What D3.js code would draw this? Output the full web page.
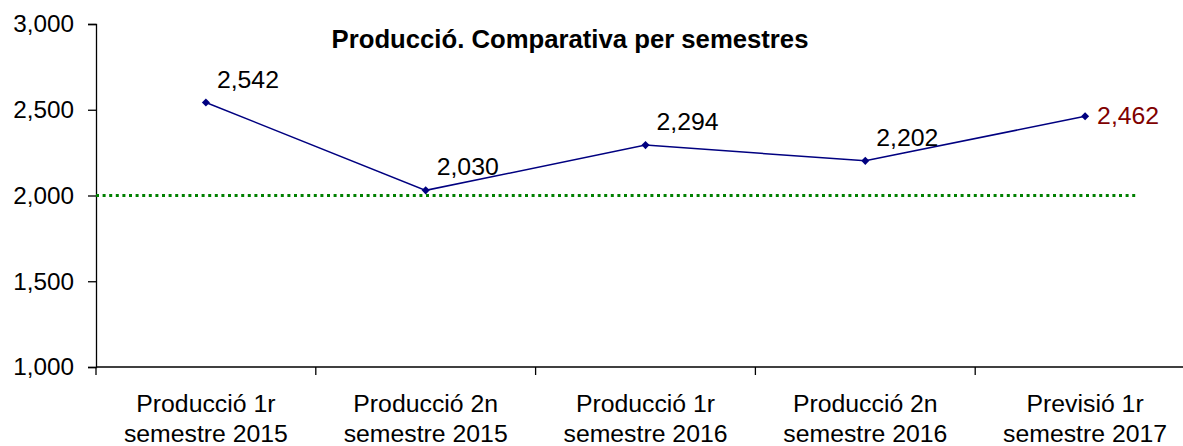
<!DOCTYPE html>
<html>
<head>
<meta charset="utf-8">
<script src="https://cdn.jsdelivr.net/npm/d3@7"></script>
<style>
  body { margin: 0; background: #fff; }
  text { font-family: "Liberation Sans", Arial, sans-serif; }
</style>
</head>
<body>
<svg width="1183" height="446"></svg>
<script>
const categories = [
    'Producció 1r semestre 2015',
    'Producció 2n semestre 2015',
    'Producció 1r semestre 2016',
    'Producció 2n semestre 2016',
    'Previsió 1r semestre 2017'
];
const values = [2542, 2030, 2294, 2202, 2462];
const target = 2000;
const yTicks = [1000, 1500, 2000, 2500, 3000];

const svg = d3.select('svg');
const plotLeft = 96, plotTop = 24, plotBottom = 367;
const band = 219.8;

// scales
const x = d3.scaleBand()
    .domain(categories)
    .range([plotLeft, plotLeft + band * categories.length]);

const y = d3.scaleLinear()
    .domain([1000, 3000])
    .range([plotBottom, plotTop]);

// y axis
const yAxis = svg.append('g')
    .attr('transform', `translate(${plotLeft},0)`)
    .call(d3.axisLeft(y).tickValues(yTicks).tickFormat(d3.format(',')).tickSize(8).tickPadding(14));
yAxis.select('.domain').attr('stroke', '#000').attr('stroke-width', 1.3);
yAxis.selectAll('.tick line').attr('stroke', '#000').attr('stroke-width', 1.3);
yAxis.selectAll('.tick text').attr('font-size', 24.3).attr('fill', '#000')
    .style('font-family', '"Liberation Sans", Arial, sans-serif');

// x axis line + boundary ticks
const xg = svg.append('g');
xg.append('line')
    .attr('x1', plotLeft).attr('x2', x.range()[1])
    .attr('y1', y(1000)).attr('y2', y(1000))
    .attr('stroke', '#000').attr('stroke-width', 1.3);
xg.selectAll('.btick')
    .data(categories)
    .enter().append('line')
    .attr('x1', d => x(d)).attr('x2', d => x(d))
    .attr('y1', y(1000)).attr('y2', y(1000) + 8)
    .attr('stroke', '#000').attr('stroke-width', 1.3);

const lab = xg.selectAll('.xlab')
    .data(categories)
    .enter().append('text')
    .attr('text-anchor', 'middle')
    .attr('font-size', 24.8)
    .attr('fill', '#000');
lab.append('tspan')
    .attr('x', d => x(d) + x.bandwidth() / 2)
    .attr('y', y(1000) + 45)
    .text(d => d.slice(0, d.indexOf(' semestre')));
lab.append('tspan')
    .attr('x', d => x(d) + x.bandwidth() / 2)
    .attr('y', y(1000) + 75)
    .text(d => d.slice(d.indexOf(' semestre') + 1));

// target dotted line
const lastX = x(categories[categories.length - 1]) + x.bandwidth() / 2;
svg.append('line')
    .attr('x1', plotLeft).attr('x2', lastX + x.bandwidth() * 0.23)
    .attr('y1', y(target)).attr('y2', y(target))
    .attr('stroke', '#008000')
    .attr('stroke-width', 3)
    .attr('stroke-dasharray', '3,3.6');

// series line
const pts = categories.map((c, i) => [x(c) + x.bandwidth() / 2, y(values[i])]);
svg.append('path')
    .attr('d', d3.line()(pts))
    .attr('fill', 'none')
    .attr('stroke', '#000080')
    .attr('stroke-width', 1.5);

svg.selectAll('.pt')
    .data(pts)
    .enter().append('path')
    .attr('transform', d => `translate(${d[0]},${d[1]})`)
    .attr('d', d3.symbol(d3.symbolDiamond2, 42)())
    .attr('fill', '#000080');

// value labels
const fmt = d3.format(',');
svg.selectAll('.vlab')
    .data(values)
    .enter().append('text')
    .attr('x', (d, i) => pts[i][0] + (i === values.length - 1 ? 12 : 11))
    .attr('y', (d, i) => pts[i][1] + (i === values.length - 1 ? 8 : -15))
    .attr('font-size', 24.8)
    .attr('fill', (d, i) => i === values.length - 1 ? '#800000' : '#000')
    .text(d => fmt(d));

// title
svg.append('text')
    .attr('x', 570)
    .attr('y', 48)
    .attr('text-anchor', 'middle')
    .attr('font-size', 25.7)
    .attr('font-weight', 'bold')
    .attr('fill', '#000')
    .text('Producció. Comparativa per semestres');
</script>
</body>
</html>
